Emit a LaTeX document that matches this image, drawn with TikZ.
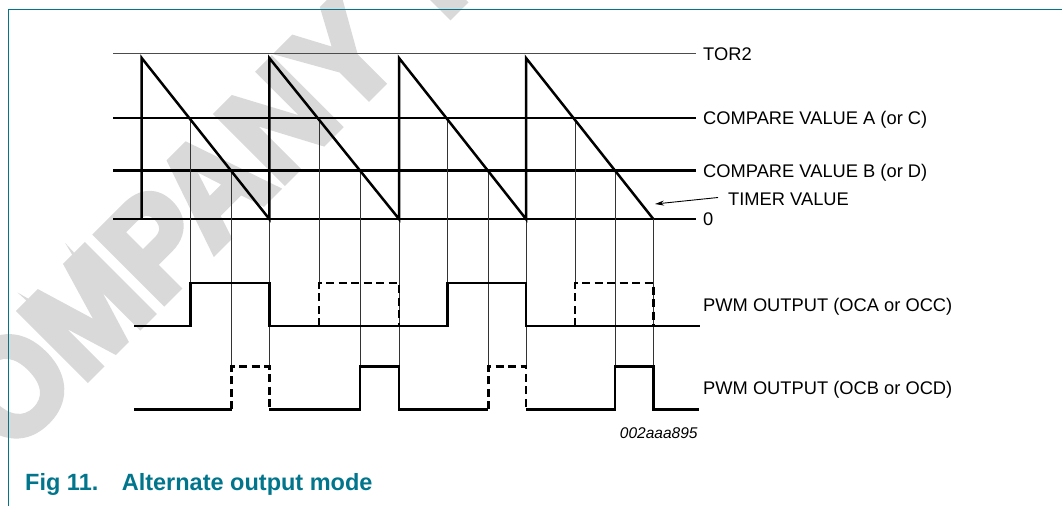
\documentclass[tikz,border=0pt]{standalone}
\usepackage{fontspec}
\setmainfont{Liberation Sans}
\newfontfamily\wmfamily[FakeBold=5,FakeStretch=0.94]{Liberation Sans Bold}
\usetikzlibrary{arrows.meta}
\definecolor{nxpteal}{RGB}{0,117,140}
\definecolor{wmgray}{RGB}{217,217,217}
\newcommand\lblfont{\fontsize{18.3}{21}\selectfont}
\newcommand\idfont{\fontsize{15.5}{18}\selectfont\itshape}
\newcommand\ttlfont{\fontsize{23.5}{27}\selectfont\bfseries}
\newcommand\wmfont{\wmfamily\fontsize{138}{146}\selectfont}
\begin{document}
\begin{tikzpicture}[x=1pt,y=-1pt,
  frameline/.style={draw=nxpteal,line width=1pt},
  torline/.style={draw=black!70,line width=1.5pt},
  cmpline/.style={draw=black,line width=2.5pt},
  zeroline/.style={draw=black,line width=1.4pt},
  wave/.style={draw=black,line width=2.5pt},
  dashwave/.style={draw=black,line width=2.5pt,dash pattern=on 8pt off 4.5pt},
  guide/.style={draw=black!80,line width=0.9pt},
  lbl/.style={anchor=base west,inner sep=0pt,font=\lblfont},
  ptr/.style={draw=black,line width=0.9pt,-{Stealth[length=9pt,width=5pt]}}]
\useasboundingbox (0,0) rectangle (1062,506);
% watermark
\begin{scope}
\clip (0,0) rectangle (1062,506);
\node[anchor=base west,inner sep=0pt,rotate=45,text=wmgray,font=\wmfont] (wm) at (-56,522) {COMPANY\kern54pt PUBLIC};
\end{scope}
% frame
\draw[frameline] (8,506) -- (8,9) -- (1062,9);
% labels
\node[lbl] (tor2) at (703,60.1) {TOR2};
\node[lbl] (cmpa) at (703,124.4) {COMPARE VALUE A (or C)};
\node[lbl] (cmpb) at (703,177.1) {COMPARE VALUE B (or D)};
\node[lbl] (timer) at (728,205.2) {TIMER VALUE};
\node[lbl] (zero) at (703,225.4) {0};
\node[lbl] (pwma) at (703,311.4) {PWM OUTPUT (OCA or OCC)};
\node[lbl] (pwmb) at (703,394.6) {PWM OUTPUT (OCB or OCD)};
\node[anchor=base east,inner sep=0pt,font=\idfont] (figid) at (697.7,438.3) {002aaa895};
\node[anchor=base west,inner sep=0pt,font=\ttlfont,text=nxpteal] (title) at (25,490) {Fig 11.\hspace{23.5pt}Alternate output mode};
% reference levels
\coordinate (torL) at (113,53.7);
\coordinate (cmpaL) at (113,118);
\coordinate (cmpbL) at (113,170.7);
\coordinate (zeroL) at (113,219);
\draw[torline,shorten >=7pt] (torL) -- (torL -| tor2.west);
\draw[cmpline,shorten >=7pt] (cmpaL) -- (cmpaL -| cmpa.west);
\draw[cmpline,shorten >=7pt] (cmpbL) -- (cmpbL -| cmpb.west);
\draw[zeroline,shorten >=7pt] (zeroL) -- (zeroL -| zero.west);
% guide lines
\foreach \x in {190.3,319,447.3,575} \draw[guide] (\x,118) -- (\x,283);
\foreach \x in {231.7,360,488.3,615} \draw[guide] (\x,170.7) -- (\x,366.7);
\foreach \x in {269.3,399,526,653.3} \draw[guide] (\x,219) -- (\x,366.7);
% sawtooth timer value
\draw[wave] (141.7,219) -- (141.7,58) -- (269.3,219) -- (269.3,58) -- (399,219) -- (399,58) -- (526,219) -- (526,58) -- (653.3,219);
\coordinate (tvtip) at (655,204);
\draw[ptr] ([xshift=-10pt,yshift=1.5pt]timer.west) -- (tvtip);
% PWM output A
\draw[wave] (134,326) -- (190.3,326) -- (190.3,283) -- (269.3,283) -- (269.3,326) -- (447.3,326) -- (447.3,283) -- (526,283) -- (526,326) -- (700,326);
\draw[dashwave] (319,326) -- (319,283) -- (399,283) -- (399,326);
\draw[dashwave] (575,326) -- (575,283) -- (653.3,283) -- (653.3,326);
% PWM output B
\draw[wave] (134,409.3) -- (231.7,409.3);
\draw[dashwave] (231.7,409.3) -- (231.7,366.7) -- (269.3,366.7) -- (269.3,409.3);
\draw[wave] (269.3,409.3) -- (360,409.3) -- (360,366.7) -- (399,366.7) -- (399,409.3) -- (488.3,409.3);
\draw[dashwave] (488.3,409.3) -- (488.3,366.7) -- (526,366.7) -- (526,409.3);
\draw[wave] (526,409.3) -- (615,409.3) -- (615,366.7) -- (653.3,366.7) -- (653.3,409.3) -- (699,409.3);
\end{tikzpicture}
\end{document}
